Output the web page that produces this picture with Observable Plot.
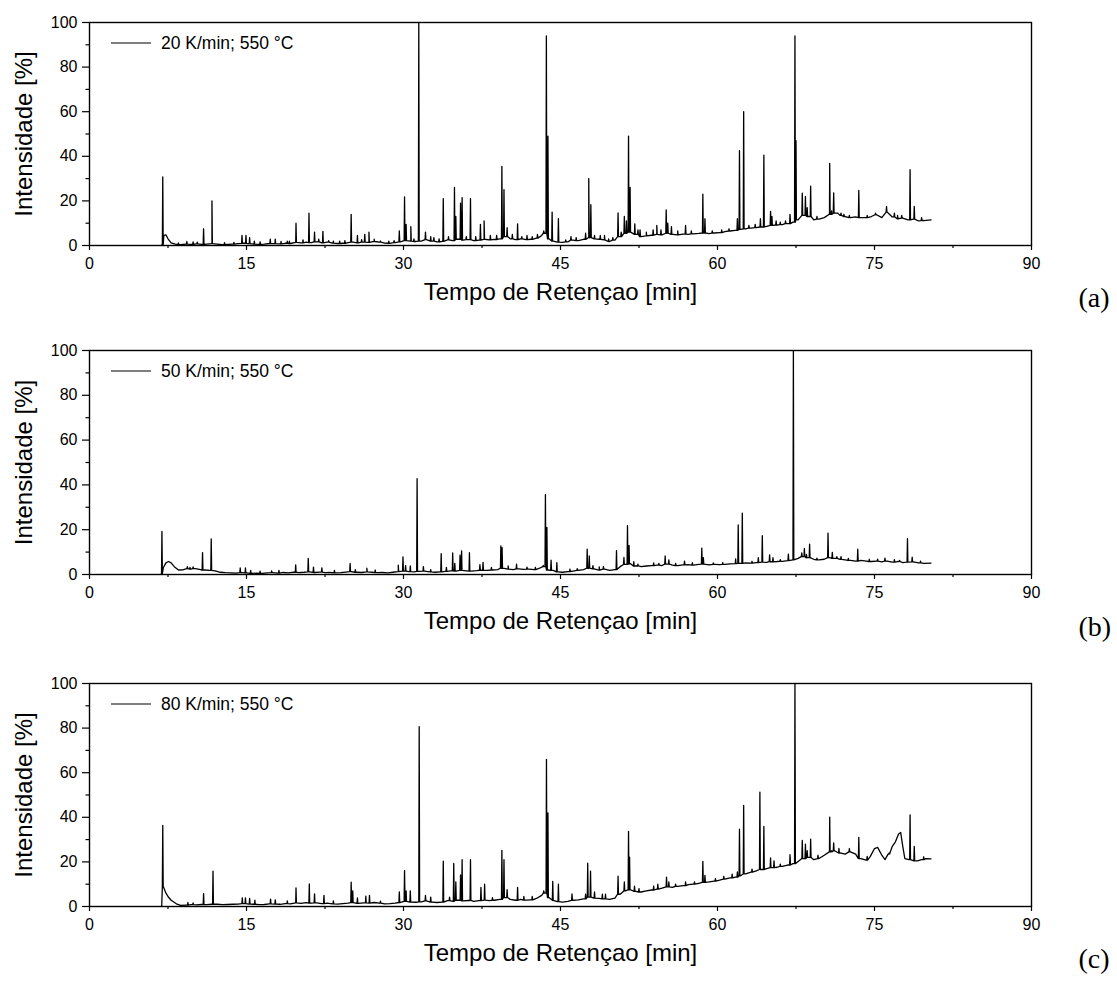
<!DOCTYPE html>
<html><head><meta charset="utf-8">
<script src="https://cdn.jsdelivr.net/npm/d3@7"></script>
<script src="https://cdn.jsdelivr.net/npm/@observablehq/plot@0.6"></script>
<style>
body{margin:0;background:#fff;}
#wrap{position:relative;width:1117px;height:983px;font-family:"Liberation Sans",Arial,sans-serif;}
.panel{position:absolute;left:0;}
.legend{position:absolute;display:flex;align-items:center;font-size:17.5px;color:#000;white-space:nowrap;transform:translateY(-50%);}
.legend .swatch{display:inline-block;width:40px;height:0;border-top:1.3px solid #000;margin-right:10px;}
</style></head><body><div id="wrap"></div>
<script>
// ---- axis ticks ----
const xTicks = [0, 15, 30, 45, 60, 75, 90];
const xMinor = [7.5, 22.5, 37.5, 52.5, 67.5, 82.5];
const yTicks = [0, 20, 40, 60, 80, 100];
const yMinor = [10, 30, 50, 70, 90];
const xTitle = "Tempo de Retençao [min]";
const yTitle = "Intensidade [%]";
const legendLabels = ["20 K/min; 550 °C", "50 K/min; 550 °C", "80 K/min; 550 °C"];
const panelLabels = ["(a)", "(b)", "(c)"];

// ---- (a) 20 K/min: baseline readings [time, %] ----
const baseA = [[6.9,0.3],[7.1,4.5],[7.3,4.8],[7.5,3],[7.8,1.2],[8.2,0.6],[8.7,0.4],[9.2,0.6],[9.7,0.5],[10.2,0.7],[10.7,0.5],[11.2,0.6],[11.7,0.8],[12.2,0.6],[12.7,0.4],[13.2,0.5],[13.7,0.6],[14.2,0.8],[14.7,1.0],[15.2,0.8],[15.7,0.6],[16.2,0.5],[16.7,0.6],[17.2,0.9],[17.7,0.8],[18.2,0.7],[18.7,1.0],[19.2,0.9],[19.7,1.4],[20.2,1.2],[20.7,1.5],[21.2,1.3],[21.7,1.6],[22.2,1.2],[22.7,1.5],[23.2,1.1],[23.7,0.9],[24.2,1.0],[24.7,1.3],[25.2,1.5],[25.7,1.2],[26.2,1.5],[26.7,1.4],[27.2,1.8],[27.7,1.5],[28.2,1.1],[28.7,1.0],[29.2,1.3],[29.7,1.6],[30.2,2.2],[30.7,2.0],[31.2,1.8],[31.7,2.0],[32.2,2.6],[32.7,2.0],[33.2,1.6],[33.7,1.9],[34.2,2.5],[34.7,2.2],[35.2,2.8],[35.7,2.4],[36.2,2.6],[36.7,2.2],[37.2,2.4],[37.7,2.8],[38.2,2.5],[38.7,2.7],[39.2,3.0],[39.7,4.0],[40.2,3.0],[40.7,2.6],[41.2,3.0],[41.7,2.6],[42.2,2.8],[42.7,3.3],[43.2,4.5],[43.5,5.5],[43.9,3.0],[44.3,2.0],[44.7,1.5],[45.2,1.4],[45.7,1.6],[46.2,2.4],[46.7,2.2],[47.2,2.8],[47.7,3.5],[48.2,3.0],[48.7,2.8],[49.2,2.5],[49.7,1.8],[50.2,2.4],[50.7,4.0],[51.2,5.5],[51.7,6.0],[52.2,5.0],[52.7,4.0],[53.2,4.3],[53.7,4.6],[54.2,5.0],[54.7,4.8],[55.2,5.5],[55.7,5.0],[56.2,4.8],[56.7,5.1],[57.2,5.0],[57.7,5.2],[58.2,5.4],[58.7,5.6],[59.2,5.3],[59.7,5.6],[60.2,5.8],[60.7,6.2],[61.2,6.5],[61.7,6.8],[62.2,7.2],[62.7,7.5],[63.2,7.8],[63.7,8.0],[64.2,8.3],[64.7,8.6],[65.2,9.0],[65.7,9.2],[66.2,9.4],[66.7,9.8],[67.2,10.5],[67.7,11.5],[68.2,13.5],[68.7,13.0],[69.2,11.5],[69.7,11.8],[70.2,12.5],[70.7,14.0],[71.2,14.5],[71.7,13.5],[72.2,13.0],[72.7,12.5],[73.2,12.8],[73.7,12.5],[74.2,12.5],[74.7,13.0],[75.2,13.8],[75.7,12.5],[76.2,15.0],[76.7,12.8],[77.2,12.0],[77.7,12.3],[78.2,11.5],[78.7,11.8],[79.2,11.0],[79.7,11.2],[80.4,11.5]];
// ---- (a) peaks [time, apex %] ----
const peaksA = [[7.0,30.8],[8.5,1.2],[9.3,1.8],[9.9,1.6],[10.3,1.5],[10.9,7.5],[11.7,20],[12.9,1.3],[13.8,1.4],[14.57,4.5],[14.95,4.5],[15.3,3.5],[15.75,2],[16.3,1.6],[17.27,2.8],[17.75,2.8],[18.3,1.8],[18.9,2],[19.1,1.9],[19.73,10],[20.4,2.5],[20.97,14.5],[21.5,6],[21.9,2.8],[22.3,6.3],[22.85,2.2],[23.3,2],[23.9,2],[24.4,2.2],[25.0,14],[25.6,4.5],[26.0,2.6],[26.3,5],[26.7,6],[27.2,2.8],[27.8,2],[28.6,2],[29.1,2.2],[29.6,6.5],[30.1,21.8],[30.25,9.5],[30.7,8.5],[31.0,3],[31.46,100],[32.1,6],[32.6,4],[32.9,3.5],[33.4,3],[33.8,21],[34.3,4],[34.87,26],[35.0,13],[35.45,19],[35.6,21.5],[36.0,4],[36.4,21],[36.9,4],[37.35,9.5],[37.7,11],[38.3,4.5],[38.9,4.5],[39.4,35.5],[39.6,25],[39.9,8],[40.4,5],[40.9,9.7],[41.3,4],[41.8,4.5],[42.3,4],[42.8,5],[43.4,6.5],[43.65,94],[43.8,49],[44.2,15],[44.8,12],[45.5,2.5],[46.0,4],[46.5,3.5],[47.4,5.5],[47.7,30],[47.9,18.3],[48.25,4.5],[48.8,4.5],[49.2,4.5],[49.6,3],[50.0,3.5],[50.5,14.6],[50.8,6],[51.1,13],[51.3,11],[51.5,49],[51.65,26],[52.1,9.7],[52.4,7],[52.6,7],[53.2,6],[53.85,7],[54.2,9],[54.6,7],[55.1,16],[55.25,10],[55.6,8.5],[56.2,6.5],[56.95,9],[57.5,6.5],[58.6,23],[58.8,12],[59.5,6.5],[60.4,7],[61.1,7.5],[61.9,12],[62.1,42.5],[62.5,60],[63.0,9],[63.6,9.5],[64.1,12],[64.43,40.5],[65.07,15.3],[65.2,13],[65.6,11],[66.0,10.5],[66.5,11],[66.93,14],[67.4,94],[67.5,47],[68.1,23.5],[68.4,22],[68.57,17],[68.9,26.6],[69.5,13],[70.72,36.8],[70.9,15.5],[71.1,23.6],[71.45,14.5],[71.8,14.5],[72.08,14],[72.6,13.5],[73.5,24.7],[74.3,13.5],[75.1,14.5],[76.15,17.5],[76.9,14.5],[77.2,13.5],[77.6,13.5],[78.4,34],[78.8,17.5],[79.5,12.5]];

// ---- (b) 50 K/min ----
const baseB = [[6.85,0.3],[7.05,3.0],[7.3,5.2],[7.55,5.8],[7.8,5.2],[8.1,3.5],[8.5,2.0],[8.9,2.1],[9.3,2.6],[9.7,2.4],[10.1,2.6],[10.5,2.3],[11.0,2.0],[11.5,1.8],[12.0,1.6],[12.5,1.0],[13.0,0.8],[13.5,0.7],[14.0,0.6],[14.5,0.8],[15.0,0.7],[15.5,0.5],[16.0,0.6],[16.5,0.5],[17.0,0.7],[17.5,0.8],[18.0,0.6],[18.5,0.9],[19.0,0.7],[19.5,1.0],[20.0,0.8],[20.5,1.0],[21.0,1.2],[21.5,0.9],[22.0,1.1],[22.5,0.8],[23.0,0.9],[23.5,0.7],[24.0,0.8],[24.5,1.1],[25.0,1.3],[25.5,1.0],[26.0,0.9],[26.5,1.2],[27.0,1.0],[27.5,0.8],[28.0,0.9],[28.5,0.7],[29.0,1.0],[29.5,1.3],[30.0,1.5],[30.5,1.3],[31.0,1.2],[31.5,1.4],[32.0,1.5],[32.5,1.2],[33.0,1.0],[33.5,1.2],[34.0,1.4],[34.5,1.6],[35.0,1.5],[35.5,1.8],[36.0,1.6],[36.5,1.5],[37.0,1.7],[37.5,1.9],[38.0,1.8],[38.5,2.0],[39.0,2.2],[39.5,2.8],[40.0,2.4],[40.5,2.2],[41.0,2.5],[41.5,2.3],[42.0,2.4],[42.5,2.2],[43.0,2.8],[43.3,3.5],[43.9,2.0],[44.3,1.8],[44.8,1.2],[45.2,1.0],[45.7,1.3],[46.2,1.5],[46.7,1.8],[47.2,2.2],[47.7,2.8],[48.2,2.5],[48.7,2.0],[49.2,2.4],[49.7,1.8],[50.2,2.2],[50.7,3.5],[51.2,4.5],[51.7,4.8],[52.2,3.8],[52.7,3.5],[53.2,3.8],[53.7,4.0],[54.2,4.2],[54.7,4.0],[55.2,4.6],[55.7,4.2],[56.2,4.0],[56.7,4.3],[57.2,4.4],[57.7,4.2],[58.2,4.5],[58.7,4.6],[59.2,4.3],[59.7,4.5],[60.2,4.4],[60.7,4.5],[61.2,4.7],[61.7,4.9],[62.2,5.0],[62.7,5.2],[63.2,5.1],[63.7,5.3],[64.2,5.5],[64.7,5.4],[65.2,5.7],[65.7,5.8],[66.2,5.9],[66.7,6.2],[67.2,6.5],[67.7,7.2],[68.2,8.0],[68.7,7.5],[69.2,6.8],[69.7,6.5],[70.2,6.8],[70.7,7.5],[71.2,7.2],[71.7,6.8],[72.2,6.5],[72.7,6.3],[73.2,6.0],[73.7,6.3],[74.2,6.0],[74.7,5.8],[75.2,6.0],[75.7,5.6],[76.2,6.0],[76.7,5.5],[77.2,5.8],[77.7,5.3],[78.2,5.5],[78.7,5.6],[79.2,5.2],[79.7,5.0],[80.4,5.1]];
const peaksB = [[6.92,19.2],[9.35,3.5],[9.6,3.2],[9.9,3.4],[10.8,9.8],[11.63,15.9],[14.4,2.9],[14.9,2.9],[15.4,1.8],[16.3,1.5],[17.4,1.6],[18.1,1.8],[19.7,4.3],[20.9,7.2],[21.4,3.3],[22.2,3],[23.4,1.8],[24.9,4.9],[25.4,2.2],[26.5,2.8],[27.3,2],[29.5,4.2],[29.95,7.9],[30.2,4],[30.65,3.8],[31.3,42.8],[31.9,3.5],[32.6,2.2],[33.6,9.3],[34.1,3.2],[34.7,9.6],[34.9,5],[35.4,8.6],[35.55,10.5],[36.3,9.7],[37.3,4.4],[37.6,5.4],[38.4,3.2],[39.3,12.8],[39.42,12],[40.0,3.8],[40.8,4.6],[41.8,3.3],[42.6,3.2],[43.35,4],[43.56,35.6],[43.7,21],[44.1,6.4],[44.65,5.3],[45.9,2.4],[46.6,2.6],[47.55,11.3],[47.75,8.3],[48.1,4],[48.7,3.4],[49.1,3.5],[50.35,10.6],[51.06,7.6],[51.4,21.8],[51.55,13],[52.0,5.7],[52.4,4.6],[53.9,5.2],[54.4,5],[55.0,8.3],[55.35,6.5],[56.0,5],[56.85,6],[57.6,5.3],[58.5,11.8],[58.65,7.5],[59.6,5.2],[60.5,5.3],[61.73,7],[61.98,22.1],[62.37,27.4],[63.3,5.9],[63.9,7.5],[64.28,17.3],[64.98,8.7],[65.3,7.5],[66.0,6.6],[66.77,9.1],[67.25,100],[68.05,9.6],[68.3,11.6],[68.5,9],[68.8,13.6],[69.5,7.3],[70.56,18.5],[70.97,9.9],[71.4,8],[71.8,8],[72.5,7.2],[73.4,11.3],[74.5,6.8],[75.3,6.9],[76.0,7.3],[76.9,6.6],[77.4,6.3],[78.15,16],[78.6,7.7],[79.4,6]];

// ---- (c) 80 K/min ----
const baseC = [[6.9,0.3],[7.05,9.0],[7.3,6.0],[7.5,4.5],[7.8,2.8],[8.3,1.2],[8.7,0.5],[9.2,0.6],[9.7,0.8],[10.2,0.7],[10.7,0.9],[11.2,0.8],[11.7,1.0],[12.2,1.0],[12.7,0.8],[13.2,0.9],[13.7,1.0],[14.2,1.1],[14.7,1.3],[15.2,1.1],[15.7,1.0],[16.2,0.8],[16.7,0.9],[17.2,1.2],[17.7,1.1],[18.2,1.0],[18.7,1.3],[19.2,1.2],[19.7,1.6],[20.2,1.4],[20.7,1.7],[21.2,1.5],[21.7,1.6],[22.2,1.3],[22.7,1.5],[23.2,1.2],[23.7,1.1],[24.2,1.3],[24.7,1.5],[25.2,1.7],[25.7,1.4],[26.2,1.6],[26.7,1.5],[27.2,1.8],[27.7,1.5],[28.2,1.2],[28.7,1.3],[29.2,1.5],[29.7,1.8],[30.2,2.3],[30.7,2.0],[31.2,1.9],[31.7,2.1],[32.2,2.5],[32.7,2.0],[33.2,1.8],[33.7,2.0],[34.2,2.6],[34.7,2.3],[35.2,2.8],[35.7,2.5],[36.2,2.7],[36.7,2.3],[37.2,2.6],[37.7,2.9],[38.2,2.6],[38.7,2.8],[39.2,3.2],[39.7,4.0],[40.2,3.2],[40.7,2.8],[41.2,3.2],[41.7,2.9],[42.2,3.0],[42.7,3.6],[43.2,5.0],[43.5,6.0],[43.9,4.0],[44.3,2.8],[44.7,2.2],[45.2,2.0],[45.7,2.3],[46.2,2.8],[46.7,3.0],[47.2,3.4],[47.7,4.2],[48.2,3.8],[48.7,3.6],[49.2,3.4],[49.7,3.2],[50.2,3.8],[50.7,5.5],[51.2,7.0],[51.7,7.5],[52.2,6.8],[52.7,6.5],[53.2,7.0],[53.7,7.4],[54.2,7.8],[54.7,8.2],[55.2,8.8],[55.7,8.6],[56.2,9.0],[56.7,9.4],[57.2,9.8],[57.7,10.0],[58.2,10.4],[58.7,10.8],[59.2,11.0],[59.7,11.4],[60.2,11.8],[60.7,12.3],[61.2,12.8],[61.7,13.2],[62.2,13.8],[62.7,14.6],[63.2,15.4],[63.7,16.0],[64.2,16.6],[64.7,17.0],[65.2,17.4],[65.7,17.6],[66.2,18.0],[66.7,18.6],[67.2,19.2],[67.7,20.2],[68.2,21.5],[68.7,22.0],[69.2,21.0],[69.7,21.5],[70.2,23.0],[70.7,24.5],[71.2,25.0],[71.7,24.0],[72.2,23.5],[72.7,24.5],[73.2,23.5],[73.7,21.5],[74.2,20.8],[74.6,22.5],[75.0,26.0],[75.3,26.5],[75.7,23.0],[76.0,21.0],[76.3,23.5],[76.7,27.0],[77.0,29.0],[77.3,32.5],[77.5,33.2],[77.7,27.0],[77.9,21.5],[78.3,21.0],[79.1,20.5],[79.5,21.0],[79.9,21.5],[80.4,21.4]];
const peaksC = [[7.0,36.4],[9.4,1.8],[9.9,1.6],[10.9,5.8],[11.8,15.9],[14.6,3.9],[14.9,3.9],[15.3,3.6],[15.8,2.8],[17.3,3.3],[17.75,3],[18.9,2.5],[19.73,8.3],[21.0,10.1],[21.5,5.7],[22.4,5],[23.3,2.5],[25.0,10.9],[25.15,7],[25.6,3.9],[26.4,4.6],[26.75,5],[27.8,2.4],[29.6,6.6],[30.1,16.1],[30.25,7],[30.65,7],[31.5,80.6],[32.1,5],[32.6,4.2],[33.8,20.3],[34.4,4.2],[34.8,19.3],[35.0,11],[35.45,14.2],[35.6,21],[36.4,21],[37.4,8.6],[37.75,10],[38.5,4],[39.4,25.2],[39.6,21],[39.9,7.6],[40.9,8.6],[41.5,4.5],[42.3,4.5],[43.4,7],[43.66,66],[43.8,42],[44.26,11.3],[44.8,10],[46.1,5.6],[47.4,5.5],[47.6,19.4],[47.87,15.8],[48.25,6.5],[49.0,5.5],[49.3,5.5],[50.5,13.6],[51.1,11],[51.5,33.7],[51.6,22.1],[52.07,9.1],[52.5,8],[53.9,9.1],[54.3,10],[55.13,13.2],[55.35,11],[56.0,10],[56.95,11],[57.8,11],[58.6,20.2],[58.8,14],[59.8,12.5],[60.6,13.5],[61.4,14.5],[61.9,15.5],[62.1,34.7],[62.5,45.3],[63.3,16.8],[64.05,51.3],[64.43,35.9],[65.07,21.8],[65.4,20.5],[66.0,19],[66.93,23.2],[67.4,100],[68.1,29.6],[68.4,28],[68.57,25],[68.9,30.2],[69.6,23],[70.72,40.1],[70.9,25],[71.1,28.5],[71.6,26],[72.6,26],[73.5,31],[74.3,22.5],[76.4,24],[78.4,41.1],[78.8,26.9],[79.7,22.3]];

// ---- build a continuous trace from baseline readings and spike apexes ----
function trace(base, peaks) {
  const pts = base.map(([t, v]) => ({t, v}));
  for (const [t, top] of peaks) {
    const foot = d3.least(base, d => Math.abs(d[0] - t))[1];
    pts.push({t: t - 0.04, v: foot}, {t, v: top}, {t: t + 0.04, v: foot});
  }
  return pts.sort((a, b) => a.t - b.t);
}

const series = [trace(baseA, peaksA), trace(baseB, peaksB), trace(baseC, peaksC)];
const layout = [
  {top: 0,   height: 330, mt: 22, mb: 85},
  {top: 330, height: 330, mt: 20, mb: 86},
  {top: 660, height: 323, mt: 23, mb: 77}
];

const wrap = document.getElementById("wrap");
series.forEach((data, i) => {
  const L = layout[i];
  const chart = Plot.plot({
    width: 1117, height: L.height,
    marginLeft: 89, marginRight: 86, marginTop: L.mt, marginBottom: L.mb,
    style: {fontFamily: '"Liberation Sans", Arial, sans-serif', fontSize: "16px", color: "#000", background: "#fff"},
    x: {domain: [0, 90]},
    y: {domain: [0, 100]},
    marks: [
      Plot.line(data, {x: "t", y: "v", stroke: "#000", strokeWidth: 1.3, clip: true}),
      Plot.frame({stroke: "#000", strokeWidth: 1.4}),
      Plot.axisX({ticks: xTicks, tickSize: 5, tickPadding: 7, fontSize: 16, label: null, strokeWidth: 1.2}),
      Plot.axisX({ticks: xMinor, tickSize: 3, tickFormat: () => "", label: null, strokeWidth: 1.2}),
      Plot.axisY({ticks: yTicks, tickSize: 7, tickPadding: 5, fontSize: 16, label: null, strokeWidth: 1.2}),
      Plot.axisY({ticks: yMinor, tickSize: 3.5, tickFormat: () => "", label: null, strokeWidth: 1.2}),
      Plot.text([xTitle], {frameAnchor: "bottom", dy: 54, fontSize: 24, fill: "#000"}),
      Plot.text([yTitle], {frameAnchor: "left", textAnchor: "middle", rotate: -90, dx: -65, fontSize: 24, fill: "#000"}),
      Plot.text([panelLabels[i]], {frameAnchor: "bottom-right", dx: 47, dy: 61, textAnchor: "start", fontSize: 28, fontFamily: '"Liberation Serif", "Times New Roman", serif', fill: "#000"})
    ]
  });
  chart.classList.add("panel");
  chart.style.top = L.top + "px";
  chart.style.position = "absolute";
  wrap.appendChild(chart);

  const lg = document.createElement("div");
  lg.className = "legend";
  lg.style.left = "111px";
  lg.style.top = (L.top + L.mt + 21) + "px";
  lg.innerHTML = '<span class="swatch"></span><span></span>';
  lg.lastChild.textContent = legendLabels[i];
  wrap.appendChild(lg);
});
</script></body></html>
